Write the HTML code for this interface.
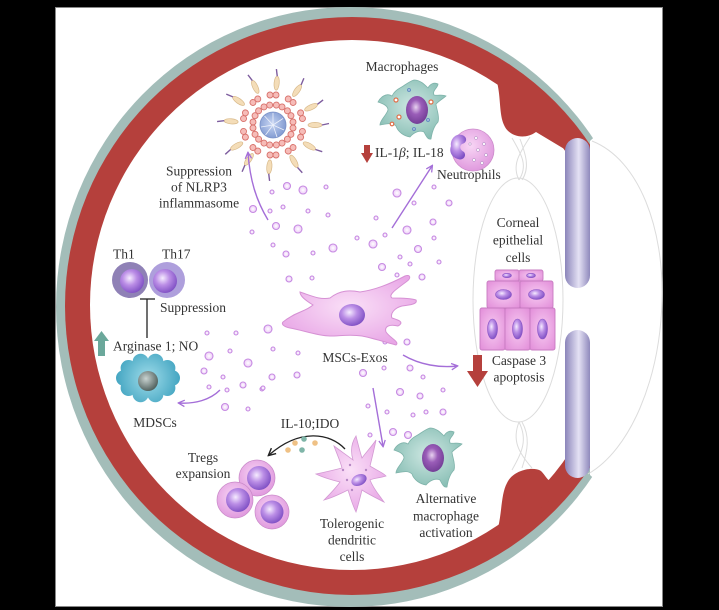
<!DOCTYPE html>
<html><head><meta charset="utf-8"><style>
html,body{margin:0;padding:0;background:#000;}
svg{display:block;}
</style></head><body>
<svg width="719" height="610" viewBox="0 0 719 610" xmlns="http://www.w3.org/2000/svg">
<defs>
  <radialGradient id="nuc" cx="40%" cy="38%" r="65%">
    <stop offset="0" stop-color="#f6ecff"/><stop offset="0.45" stop-color="#bb8ee6"/><stop offset="1" stop-color="#7f4fc4"/>
  </radialGradient>
  <radialGradient id="nucd" cx="45%" cy="40%" r="65%">
    <stop offset="0" stop-color="#e8d2f0"/><stop offset="0.4" stop-color="#9a5db8"/><stop offset="1" stop-color="#6e3a92"/>
  </radialGradient>
  <radialGradient id="pinkc" cx="45%" cy="40%" r="60%">
    <stop offset="0" stop-color="#f8d6f5"/><stop offset="1" stop-color="#e09ade"/>
  </radialGradient>
  <radialGradient id="epi" cx="50%" cy="50%" r="65%">
    <stop offset="0" stop-color="#f7caf2"/><stop offset="1" stop-color="#e391da"/>
  </radialGradient>
  <radialGradient id="msc" cx="50%" cy="45%" r="60%">
    <stop offset="0" stop-color="#fae0f7"/><stop offset="1" stop-color="#e8a6e6"/>
  </radialGradient>
  <radialGradient id="teal" cx="50%" cy="45%" r="60%">
    <stop offset="0" stop-color="#cfe8e3"/><stop offset="1" stop-color="#86bdb3"/>
  </radialGradient>
  <radialGradient id="mdsc" gradientUnits="userSpaceOnUse" cx="148" cy="378" r="34">
    <stop offset="0" stop-color="#9fdcea"/><stop offset="1" stop-color="#3ea2bf"/>
  </radialGradient>
  <radialGradient id="grayn" cx="40%" cy="38%" r="65%">
    <stop offset="0" stop-color="#c9d3d1"/><stop offset="1" stop-color="#4f5f5c"/>
  </radialGradient>
  <radialGradient id="blue" cx="45%" cy="45%" r="60%">
    <stop offset="0" stop-color="#c7d5f3"/><stop offset="1" stop-color="#7d97cf"/>
  </radialGradient>
  <radialGradient id="exo" cx="50%" cy="50%" r="50%">
    <stop offset="0" stop-color="#ffffff"/><stop offset="1" stop-color="#ecc9f7"/>
  </radialGradient>
  <linearGradient id="rod" x1="0" y1="0" x2="1" y2="0">
    <stop offset="0" stop-color="#8b85ba"/><stop offset="0.55" stop-color="#e4e1f4"/><stop offset="1" stop-color="#8f89bc"/>
  </linearGradient>
  <marker id="pa" viewBox="0 0 10 10" refX="8" refY="5" markerWidth="8" markerHeight="8" orient="auto" markerUnits="userSpaceOnUse">
    <path d="M1,1 L9,5 L1,9" fill="none" stroke="#a46ed8" stroke-width="1.6"/>
  </marker>
  <marker id="ba" viewBox="0 0 10 10" refX="8" refY="5" markerWidth="9" markerHeight="9" orient="auto" markerUnits="userSpaceOnUse">
    <path d="M1,1 L9,5 L1,9" fill="none" stroke="#222" stroke-width="1.6"/>
  </marker>
  <g id="pr"><circle cx="0" cy="-3" r="3"/><circle cx="0" cy="3" r="3"/></g>
  <g id="ov"><ellipse cx="42" cy="0" rx="7" ry="2.6" fill="#f4ddb8" stroke="#d8b98a" stroke-width="0.7"/><line x1="49" y1="0" x2="56" y2="-1.5" stroke="#7d5c9e" stroke-width="1.4"/></g>
  <path id="mac" d="M 392,96 C 386,92 380,98 378,102 C 384,104 388,106 388,110 C 386,116 380,120 380,125 C 386,124 392,122 396,126 C 398,132 404,136 410,137 C 414,132 420,130 424,132 C 426,136 428,140 431,139 C 432,132 434,126 438,122 C 440,116 436,108 436,104 C 440,100 444,98 446,96 C 442,94 438,96 434,95 C 432,90 438,88 438,84 C 434,82 430,84 428,88 C 424,84 420,80 414,80 C 408,82 404,86 400,88 C 396,90 394,92 392,96 Z"/>
</defs>

<rect width="719" height="610" fill="#000"/>
<rect x="55.5" y="7.5" width="607" height="599" fill="#fff" stroke="#888" stroke-width="1"/>

<!-- eye rings -->
<ellipse cx="350" cy="307" rx="294" ry="300" fill="#a3bdb9"/>
<ellipse cx="352" cy="306" rx="287" ry="289" fill="#b5403c"/>
<ellipse cx="352" cy="305" rx="262" ry="265" fill="#fff"/>
<path d="M 497,82 C 501,98 499,114 504,125 C 509,137 525,140 536,132 L 566,150 L 566,128 L 520,82 Z" fill="#b5403c"/>
<path d="M 498,528 C 502,512 501,494 507,483 C 513,470 533,466 541,471 C 546,476 548,482 552,481 L 566,468 L 566,485 L 520,528 Z" fill="#b5403c"/>
<polygon points="590,141 662,74 662,540 590,475" fill="#fff"/>

<!-- lens, zonules, cornea -->
<g fill="none" stroke="#dcdcdc" stroke-width="1">
  <ellipse cx="518" cy="300" rx="45" ry="122"/>
  <path d="M 512,138 C 522,155 528,166 519,180"/>
  <path d="M 530,137 C 518,155 512,166 519,180"/>
  <path d="M 520,139 C 526,155 530,168 522,180"/>
  <path d="M 512,470 C 522,452 528,440 519,422"/>
  <path d="M 532,468 C 518,452 512,440 519,422"/>
  <path d="M 522,468 C 528,450 530,436 522,422"/>
  <path d="M 592,141 C 640,160 664,230 662,300 C 660,380 630,450 588,474"/>
</g>

<!-- rods -->
<rect x="565" y="138" width="25" height="150" rx="12.5" fill="url(#rod)"/>
<rect x="565" y="330" width="25" height="148" rx="12.5" fill="url(#rod)"/>

<!-- inflammasome -->
<g transform="translate(273,125)">
  <g fill="#f6bcb8" stroke="#d8726c" stroke-width="0.9">
    <g transform="rotate(0)"><use href="#pr" x="20"/></g>
    <g transform="rotate(36)"><use href="#pr" x="20"/></g>
    <g transform="rotate(72)"><use href="#pr" x="20"/></g>
    <g transform="rotate(108)"><use href="#pr" x="20"/></g>
    <g transform="rotate(144)"><use href="#pr" x="20"/></g>
    <g transform="rotate(180)"><use href="#pr" x="20"/></g>
    <g transform="rotate(216)"><use href="#pr" x="20"/></g>
    <g transform="rotate(252)"><use href="#pr" x="20"/></g>
    <g transform="rotate(288)"><use href="#pr" x="20"/></g>
    <g transform="rotate(324)"><use href="#pr" x="20"/></g>
    <g transform="rotate(18)"><use href="#pr" x="30"/></g>
    <g transform="rotate(54)"><use href="#pr" x="30"/></g>
    <g transform="rotate(90)"><use href="#pr" x="30"/></g>
    <g transform="rotate(126)"><use href="#pr" x="30"/></g>
    <g transform="rotate(162)"><use href="#pr" x="30"/></g>
    <g transform="rotate(198)"><use href="#pr" x="30"/></g>
    <g transform="rotate(234)"><use href="#pr" x="30"/></g>
    <g transform="rotate(270)"><use href="#pr" x="30"/></g>
    <g transform="rotate(306)"><use href="#pr" x="30"/></g>
    <g transform="rotate(342)"><use href="#pr" x="30"/></g>
  </g>
  <g transform="rotate(0)"><use href="#ov"/></g>
  <g transform="rotate(30)"><use href="#ov"/></g>
  <g transform="rotate(60)"><use href="#ov"/></g>
  <g transform="rotate(95)"><use href="#ov"/></g>
  <g transform="rotate(125)"><use href="#ov"/></g>
  <g transform="rotate(150)"><use href="#ov"/></g>
  <g transform="rotate(185)"><use href="#ov"/></g>
  <g transform="rotate(215)"><use href="#ov"/></g>
  <g transform="rotate(245)"><use href="#ov"/></g>
  <g transform="rotate(275)"><use href="#ov"/></g>
  <g transform="rotate(305)"><use href="#ov"/></g>
  <g transform="rotate(335)"><use href="#ov"/></g>
  <circle r="13" fill="url(#blue)" stroke="#7b92c8" stroke-width="0.8"/>
  <g stroke="#eef2fb" stroke-width="0.8">
    <line x1="0" y1="0" x2="0" y2="-12"/><line x1="0" y1="0" x2="10" y2="-6.5"/><line x1="0" y1="0" x2="11" y2="5"/>
    <line x1="0" y1="0" x2="4" y2="12"/><line x1="0" y1="0" x2="-7.5" y2="10"/><line x1="0" y1="0" x2="-12" y2="2"/><line x1="0" y1="0" x2="-8.5" y2="-9"/>
  </g>
</g>

<!-- exosomes -->
<g stroke="#c68ae2" stroke-width="1.1" fill="url(#exo)">
<circle cx="287" cy="186" r="3.5"/><circle cx="303" cy="190" r="4"/><circle cx="326" cy="187" r="2"/><circle cx="272" cy="192" r="2"/><circle cx="283" cy="207" r="2"/><circle cx="253" cy="209" r="3.5"/><circle cx="270" cy="211" r="2"/><circle cx="308" cy="211" r="2"/><circle cx="328" cy="215" r="2"/><circle cx="276" cy="226" r="3.5"/><circle cx="298" cy="229" r="4"/><circle cx="252" cy="232" r="2"/><circle cx="357" cy="238" r="2"/><circle cx="333" cy="248" r="4"/><circle cx="273" cy="245" r="2"/><circle cx="286" cy="254" r="3"/><circle cx="313" cy="253" r="2"/><circle cx="289" cy="279" r="3"/><circle cx="312" cy="278" r="2"/>
<circle cx="397" cy="193" r="4"/><circle cx="434" cy="187" r="2"/><circle cx="414" cy="203" r="2"/><circle cx="449" cy="203" r="3"/><circle cx="376" cy="218" r="2"/><circle cx="433" cy="222" r="3"/><circle cx="407" cy="230" r="4"/><circle cx="385" cy="235" r="2"/><circle cx="434" cy="238" r="2"/><circle cx="373" cy="244" r="4"/><circle cx="418" cy="249" r="3.5"/><circle cx="400" cy="257" r="2"/><circle cx="439" cy="262" r="2"/><circle cx="382" cy="267" r="3.5"/><circle cx="410" cy="264" r="2"/><circle cx="422" cy="277" r="3"/><circle cx="397" cy="275" r="2"/>
<circle cx="268" cy="329" r="4"/><circle cx="207" cy="333" r="2"/><circle cx="236" cy="333" r="2"/><circle cx="273" cy="349" r="2"/><circle cx="230" cy="351" r="2"/><circle cx="209" cy="356" r="4"/><circle cx="248" cy="363" r="4"/><circle cx="204" cy="371" r="3"/><circle cx="223" cy="377" r="2"/><circle cx="272" cy="377" r="3"/><circle cx="243" cy="385" r="3"/><circle cx="209" cy="387" r="2"/><circle cx="227" cy="390" r="2"/><circle cx="262" cy="389" r="2"/><circle cx="225" cy="407" r="3.5"/><circle cx="248" cy="409" r="2"/>
<circle cx="298" cy="353" r="2"/><circle cx="407" cy="342" r="3"/><circle cx="385" cy="342" r="2"/><circle cx="384" cy="368" r="2"/><circle cx="410" cy="368" r="3"/><circle cx="363" cy="373" r="3.5"/><circle cx="297" cy="375" r="3"/><circle cx="423" cy="377" r="2"/><circle cx="263" cy="388" r="2"/><circle cx="400" cy="392" r="3.5"/><circle cx="420" cy="396" r="3"/><circle cx="443" cy="390" r="2"/><circle cx="368" cy="406" r="2"/>
<circle cx="387" cy="412" r="2"/><circle cx="413" cy="415" r="2"/><circle cx="426" cy="412" r="2"/><circle cx="443" cy="412" r="3"/><circle cx="370" cy="435" r="2"/><circle cx="393" cy="432" r="3.5"/><circle cx="408" cy="435" r="3.5"/>
</g>

<!-- purple arrows -->
<g fill="none" stroke="#a46ed8" stroke-width="1.4" marker-end="url(#pa)">
  <path d="M 268,220 C 256,200 250,180 248,153"/>
  <path d="M 392,228 L 432,166"/>
  <path d="M 220,390 C 210,400 195,404 179,403"/>
  <path d="M 403,355 C 420,365 440,368 457,366"/>
  <path d="M 373,388 L 383,446"/>
</g>

<!-- MSC -->
<path d="M 283,322 C 295,312 305,312 313,305 C 305,300 300,296 300,292 C 312,296 320,300 330,298 C 340,290 350,290 360,292 C 375,290 390,284 405,276 C 410,274 412,278 406,282 C 395,290 388,295 392,298 C 400,298 410,298 416,300 C 418,304 410,305 402,306 C 394,308 390,314 392,318 C 398,320 405,322 398,326 C 390,324 384,326 386,332 C 390,338 400,342 396,345 C 385,342 372,338 362,336 C 350,334 340,336 330,336 C 318,336 302,330 290,328 C 284,327 281,324 283,322 Z" fill="url(#msc)" stroke="#d691d4" stroke-width="1"/>
<ellipse cx="352" cy="315" rx="13" ry="11" fill="url(#nuc)"/>

<!-- macrophages -->
<use href="#mac" fill="url(#teal)" stroke="#7fb3aa" stroke-width="0.8"/>
<ellipse cx="417" cy="110" rx="11" ry="14" fill="url(#nucd)"/>
<g stroke-width="1.2" fill="#fff">
  <circle cx="396" cy="100" r="2" stroke="#e0704a"/><circle cx="431" cy="102" r="2" stroke="#e0704a"/><circle cx="399" cy="117" r="2" stroke="#e0704a"/><circle cx="392" cy="124" r="1.8" stroke="#e0704a"/>
  <circle cx="409" cy="90" r="1.3" stroke="#5b86c0"/><circle cx="428" cy="120" r="1.3" stroke="#5b86c0"/><circle cx="414" cy="129" r="1.3" stroke="#5b86c0"/>
</g>
<g transform="translate(16,348)">
  <use href="#mac" fill="url(#teal)" stroke="#7fb3aa" stroke-width="0.8"/>
  <ellipse cx="417" cy="110" rx="11" ry="14" fill="url(#nucd)"/>
</g>

<!-- neutrophil -->
<circle cx="473" cy="150" r="21" fill="url(#pinkc)" stroke="#cc8ccb" stroke-width="0.8"/>
<path d="M 462,135 C 455,133 450,140 451,146 C 449,151 451,157 458,159 C 463,161 467,156 464,152 C 460,150 459,146 462,144 C 467,143 468,137 462,135 Z" fill="url(#nuc)"/>
<g fill="#fff" stroke="#b99ac9" stroke-width="0.6">
  <circle cx="476" cy="138" r="1.4"/><circle cx="484" cy="144" r="1.4"/><circle cx="478" cy="150" r="1.4"/><circle cx="486" cy="155" r="1.4"/><circle cx="474" cy="160" r="1.4"/><circle cx="482" cy="163" r="1.4"/><circle cx="470" cy="144" r="1.2"/>
</g>

<!-- Th cells -->
<circle cx="130" cy="280" r="18" fill="#8f81b6"/>
<circle cx="132" cy="281" r="12" fill="url(#nuc)"/>
<circle cx="167" cy="280" r="18" fill="#ae9fdc"/>
<circle cx="165" cy="281" r="12" fill="url(#nuc)"/>
<line x1="147" y1="299" x2="147" y2="338" stroke="#222" stroke-width="1.3"/>
<line x1="140" y1="299" x2="155" y2="299" stroke="#222" stroke-width="1.3"/>

<!-- green up arrow -->
<path d="M 98,356 L 98,341 L 94,341 L 101.5,331 L 109,341 L 105,341 L 105,356 Z" fill="#6ba89b"/>

<!-- MDSC -->
<g fill="url(#mdsc)">
  <ellipse cx="148" cy="378" rx="26" ry="19"/>
  <circle cx="172" cy="378" r="8"/><circle cx="167.4" cy="388" r="8"/><circle cx="155.4" cy="394.2" r="8"/><circle cx="140.6" cy="394.2" r="8"/><circle cx="128.6" cy="388" r="8"/>
  <circle cx="124" cy="378" r="8"/><circle cx="128.6" cy="368" r="8"/><circle cx="140.6" cy="361.8" r="8"/><circle cx="155.4" cy="361.8" r="8"/><circle cx="167.4" cy="368" r="8"/>
</g>
<circle cx="148" cy="381" r="10" fill="url(#grayn)"/>

<!-- red arrows -->
<path d="M 364,145 L 370,145 L 370,153 L 373,153 L 367,163 L 361,153 L 364,153 Z" fill="#b5403c"/>
<path d="M 473,355 L 482,355 L 482,371 L 488,371 L 477.5,387 L 467,371 L 473,371 Z" fill="#b5403c"/>

<!-- epithelial cells -->
<g fill="url(#epi)" stroke="#c77bc1" stroke-width="0.9">
  <rect x="495" y="270" width="24" height="11" rx="2"/><rect x="519" y="270" width="24" height="11" rx="2"/>
  <rect x="487" y="281" width="33" height="27" rx="2"/><rect x="520" y="281" width="33" height="27" rx="2"/>
  <rect x="480" y="308" width="25" height="42" rx="2"/><rect x="505" y="308" width="25" height="42" rx="2"/><rect x="530" y="308" width="25" height="42" rx="2"/>
</g>
<g fill="url(#nuc)" stroke="#8d55c6" stroke-width="0.6">
  <ellipse cx="507" cy="275.5" rx="4.5" ry="2.2"/><ellipse cx="531" cy="275.5" rx="4.5" ry="2.2"/>
  <ellipse cx="503.5" cy="294.5" rx="8" ry="5"/><ellipse cx="536.5" cy="294.5" rx="8" ry="5"/>
  <ellipse cx="492.5" cy="329" rx="5" ry="10"/><ellipse cx="517.5" cy="329" rx="5" ry="10"/><ellipse cx="542.5" cy="329" rx="5" ry="10"/>
</g>

<!-- Tregs -->
<circle cx="257" cy="478" r="18" fill="url(#pinkc)" stroke="#c98ac8" stroke-width="0.7"/>
<circle cx="259" cy="478" r="12" fill="url(#nuc)"/>
<circle cx="272" cy="512" r="17" fill="url(#pinkc)" stroke="#c98ac8" stroke-width="0.7"/>
<circle cx="272" cy="512" r="11.5" fill="url(#nuc)"/>
<circle cx="235" cy="500" r="18" fill="url(#pinkc)" stroke="#c98ac8" stroke-width="0.7"/>
<circle cx="238" cy="500" r="12" fill="url(#nuc)"/>

<!-- IL-10 arrow + dots -->
<path d="M 345,449 C 330,433 300,428 269,455" fill="none" stroke="#222" stroke-width="1.3" marker-end="url(#ba)"/>
<circle cx="295" cy="443" r="2.8" fill="#efc185"/><circle cx="304" cy="439" r="2.8" fill="#7fb5a8"/><circle cx="315" cy="443" r="2.8" fill="#efc185"/><circle cx="288" cy="450" r="2.8" fill="#efc185"/><circle cx="302" cy="450" r="2.8" fill="#7fb5a8"/>

<!-- dendritic cell -->
<path d="M 353,460 C 350,450 352,442 356,436 C 358,444 360,452 362,458 C 368,450 372,446 376,440 C 374,450 372,458 370,466 C 376,470 382,472 386,476 C 380,478 374,478 370,480 C 374,490 380,496 384,502 C 376,498 368,494 362,490 C 360,498 358,506 356,512 C 352,504 350,496 348,490 C 340,494 332,498 324,500 C 330,494 336,488 340,482 C 332,480 324,478 316,474 C 326,472 334,470 342,468 C 340,460 336,452 334,446 C 342,452 348,456 353,460 Z" fill="url(#msc)" stroke="#d39ad3" stroke-width="0.8"/>
<ellipse cx="359" cy="480" rx="8" ry="5.5" transform="rotate(-25 359 480)" fill="url(#nuc)"/>
<g fill="#b687c4"><circle cx="343" cy="470" r="1.2"/><circle cx="347" cy="480" r="1.2"/><circle cx="352" cy="490" r="1.2"/><circle cx="350" cy="465" r="1.2"/><circle cx="366" cy="470" r="1.2"/></g>

<!-- text -->
<g font-family="'Liberation Serif', serif" font-size="13.5" fill="#333">
  <text x="402" y="71" text-anchor="middle">Macrophages</text>
  <text x="375" y="157">IL-1<tspan font-style="italic">β</tspan>; IL-18</text>
  <text x="437" y="179">Neutrophils</text>
  <text x="199" y="175.5" text-anchor="middle">Suppression</text>
  <text x="199" y="191.5" text-anchor="middle">of NLRP3</text>
  <text x="199" y="207.5" text-anchor="middle">inflammasome</text>
  <text x="113" y="258.5">Th1</text>
  <text x="162" y="258.5">Th17</text>
  <text x="160" y="312">Suppression</text>
  <text x="113" y="350.5">Arginase 1; NO</text>
  <text x="155" y="427" text-anchor="middle">MDSCs</text>
  <text x="355" y="362" text-anchor="middle">MSCs-Exos</text>
  <text x="518" y="227" text-anchor="middle">Corneal</text>
  <text x="518" y="244.5" text-anchor="middle">epithelial</text>
  <text x="518" y="262" text-anchor="middle">cells</text>
  <text x="519" y="365" text-anchor="middle">Caspase 3</text>
  <text x="519" y="381.5" text-anchor="middle">apoptosis</text>
  <text x="310" y="428" text-anchor="middle">IL-10;IDO</text>
  <text x="203" y="462" text-anchor="middle">Tregs</text>
  <text x="203" y="478" text-anchor="middle">expansion</text>
  <text x="352" y="528" text-anchor="middle">Tolerogenic</text>
  <text x="352" y="544.5" text-anchor="middle">dendritic</text>
  <text x="352" y="561" text-anchor="middle">cells</text>
  <text x="446" y="503" text-anchor="middle">Alternative</text>
  <text x="446" y="520.5" text-anchor="middle">macrophage</text>
  <text x="446" y="537" text-anchor="middle">activation</text>
</g>
</svg>
</body></html>
